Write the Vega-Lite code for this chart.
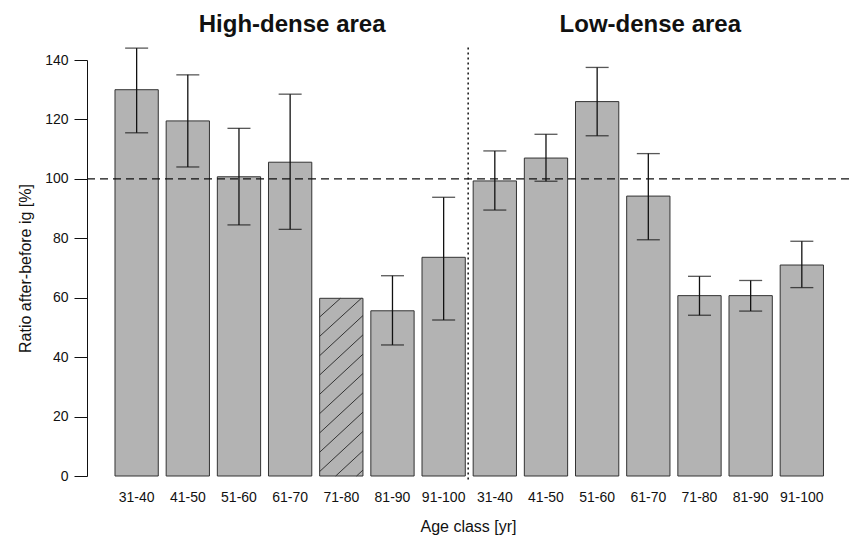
{
  "$schema": "https://vega.github.io/schema/vega-lite/v6.json",
  "width": 762,
  "height": 416,
  "autosize": {"type": "none"},
  "padding": {"left": 87, "top": 60, "right": 0, "bottom": 71},
  "background": "white",
  "config": {
    "view": {"stroke": null},
    "font": "Liberation Sans",
    "axis": {"labelColor": "#111111", "titleColor": "#111111", "labelFont": "Liberation Sans", "titleFont": "Liberation Sans"}
  },
  "resolve": {"scale": {"xOffset": "independent"}},
  "datasets": {
    "bars": [
      {"key": "H|31-40", "value": 130, "lo": 115.5, "hi": 144},
      {"key": "H|41-50", "value": 119.5, "lo": 104, "hi": 135},
      {"key": "H|51-60", "value": 100.7, "lo": 84.5, "hi": 117},
      {"key": "H|61-70", "value": 105.6, "lo": 83, "hi": 128.5},
      {"key": "H|71-80", "value": 59.8, "lo": null, "hi": null},
      {"key": "H|81-90", "value": 55.6, "lo": 44.1, "hi": 67.4},
      {"key": "H|91-100", "value": 73.6, "lo": 52.5, "hi": 93.8},
      {"key": "L|31-40", "value": 99.3, "lo": 89.5, "hi": 109.4},
      {"key": "L|41-50", "value": 107, "lo": 99.2, "hi": 115},
      {"key": "L|51-60", "value": 126, "lo": 114.5, "hi": 137.5},
      {"key": "L|61-70", "value": 94.2, "lo": 79.5, "hi": 108.5},
      {"key": "L|71-80", "value": 60.7, "lo": 54.1, "hi": 67.2},
      {"key": "L|81-90", "value": 60.7, "lo": 55.5, "hi": 65.8},
      {"key": "L|91-100", "value": 71, "lo": 63.4, "hi": 79}
    ],
    "hatch": [
      {"key": "H|71-80", "seg": "a", "f": 0.852, "v": 0},
      {"key": "H|71-80", "seg": "a", "f": 1, "v": 2},
      {"key": "H|71-80", "seg": "b", "f": 0.37, "v": 0},
      {"key": "H|71-80", "seg": "b", "f": 1, "v": 8.5},
      {"key": "H|71-80", "seg": "c", "f": 0, "v": 1.5},
      {"key": "H|71-80", "seg": "c", "f": 1, "v": 15},
      {"key": "H|71-80", "seg": "d", "f": 0, "v": 8},
      {"key": "H|71-80", "seg": "d", "f": 1, "v": 21.5},
      {"key": "H|71-80", "seg": "e", "f": 0, "v": 14.5},
      {"key": "H|71-80", "seg": "e", "f": 1, "v": 28},
      {"key": "H|71-80", "seg": "f", "f": 0, "v": 21},
      {"key": "H|71-80", "seg": "f", "f": 1, "v": 34.5},
      {"key": "H|71-80", "seg": "g", "f": 0, "v": 27.5},
      {"key": "H|71-80", "seg": "g", "f": 1, "v": 41},
      {"key": "H|71-80", "seg": "h", "f": 0, "v": 34},
      {"key": "H|71-80", "seg": "h", "f": 1, "v": 47.5},
      {"key": "H|71-80", "seg": "i", "f": 0, "v": 40.5},
      {"key": "H|71-80", "seg": "i", "f": 1, "v": 54},
      {"key": "H|71-80", "seg": "j", "f": 0, "v": 47},
      {"key": "H|71-80", "seg": "j", "f": 0.963, "v": 59.8},
      {"key": "H|71-80", "seg": "k", "f": 0, "v": 53.5},
      {"key": "H|71-80", "seg": "k", "f": 0.48, "v": 59.8}
    ],
    "titles": [
      {"key": "H|61-70", "label": "High-dense area"},
      {"key": "L|61-70", "label": "Low-dense area"}
    ],
    "divider": [
      {"key": "L|31-40"}
    ]
  },
  "encoding": {
    "x": {
      "field": "key",
      "type": "nominal",
      "scale": {
        "domain": ["H|31-40", "H|41-50", "H|51-60", "H|61-70", "H|71-80", "H|81-90", "H|91-100", "L|31-40", "L|41-50", "L|51-60", "L|61-70", "L|71-80", "L|81-90", "L|91-100"],
        "paddingInner": 0.154,
        "paddingOuter": 0.523,
        "align": 0.523
      },
      "axis": {
        "title": "Age class [yr]",
        "labelExpr": "split(datum.value, '|')[1]",
        "labelAngle": 0,
        "domain": false,
        "ticks": false,
        "tickSize": 0,
        "labelPadding": 14,
        "labelFontSize": 14,
        "titleFontSize": 16,
        "titleFontWeight": "normal",
        "titlePadding": 14
      }
    }
  },
  "layer": [
    {
      "data": {"name": "bars"},
      "mark": {"type": "bar", "fill": "#b3b3b3", "stroke": "#333333", "strokeWidth": 1},
      "encoding": {
        "y": {
          "field": "value",
          "type": "quantitative",
          "title": "Ratio after-before ig [%]",
          "scale": {"domain": [0, 140], "nice": false, "zero": false},
          "axis": {
            "values": [0, 20, 40, 60, 80, 100, 120, 140],
            "grid": false,
            "tickSize": 13,
            "tickColor": "#111111",
            "domainColor": "#111111",
            "labelPadding": 6,
            "labelFontSize": 14,
            "titleFontSize": 16,
            "titleFontWeight": "normal",
            "titlePadding": 11
          }
        }
      }
    },
    {
      "data": {"name": "hatch"},
      "mark": {"type": "line", "stroke": "#333333", "strokeWidth": 1},
      "encoding": {
        "xOffset": {"field": "f", "type": "quantitative", "scale": {"domain": [0, 1]}},
        "y": {"field": "v", "type": "quantitative", "title": "Ratio after-before ig [%]"},
        "detail": {"field": "seg"}
      }
    },
    {
      "data": {"name": "bars"},
      "transform": [{"filter": "datum.lo != null"}],
      "mark": {"type": "rule", "stroke": "#111111", "strokeWidth": 1.3},
      "encoding": {
        "y": {"field": "lo", "type": "quantitative", "title": "Ratio after-before ig [%]"},
        "y2": {"field": "hi"}
      }
    },
    {
      "data": {"name": "bars"},
      "transform": [{"filter": "datum.lo != null"}],
      "mark": {"type": "tick", "color": "#111111", "size": 23, "thickness": 1.3},
      "encoding": {
        "y": {"field": "lo", "type": "quantitative", "title": "Ratio after-before ig [%]"}
      }
    },
    {
      "data": {"name": "bars"},
      "transform": [{"filter": "datum.hi != null"}],
      "mark": {"type": "tick", "color": "#111111", "size": 23, "thickness": 1.3},
      "encoding": {
        "y": {"field": "hi", "type": "quantitative", "title": "Ratio after-before ig [%]"}
      }
    },
    {
      "data": {"values": [{}]},
      "mark": {"type": "rule", "stroke": "#111111", "strokeWidth": 1.3, "strokeDash": [8, 5]},
      "encoding": {
        "x": null,
        "y": {"datum": 100, "type": "quantitative", "title": "Ratio after-before ig [%]"}
      }
    },
    {
      "data": {"name": "divider"},
      "mark": {"type": "rule", "stroke": "#111111", "strokeWidth": 1.5, "strokeDash": [2, 3], "xOffset": -5},
      "encoding": {
        "x": {"field": "key", "type": "nominal", "bandPosition": 0},
        "y": {"datum": 144.2, "type": "quantitative", "title": "Ratio after-before ig [%]"},
        "y2": {"datum": -1.5}
      }
    },
    {
      "data": {"name": "titles"},
      "mark": {"type": "text", "fontSize": 24, "fontWeight": "bold", "color": "#111111", "baseline": "alphabetic", "align": "center", "dx": 2},
      "encoding": {
        "y": {"datum": 149.4, "type": "quantitative", "title": "Ratio after-before ig [%]"},
        "text": {"field": "label"}
      }
    }
  ]
}
